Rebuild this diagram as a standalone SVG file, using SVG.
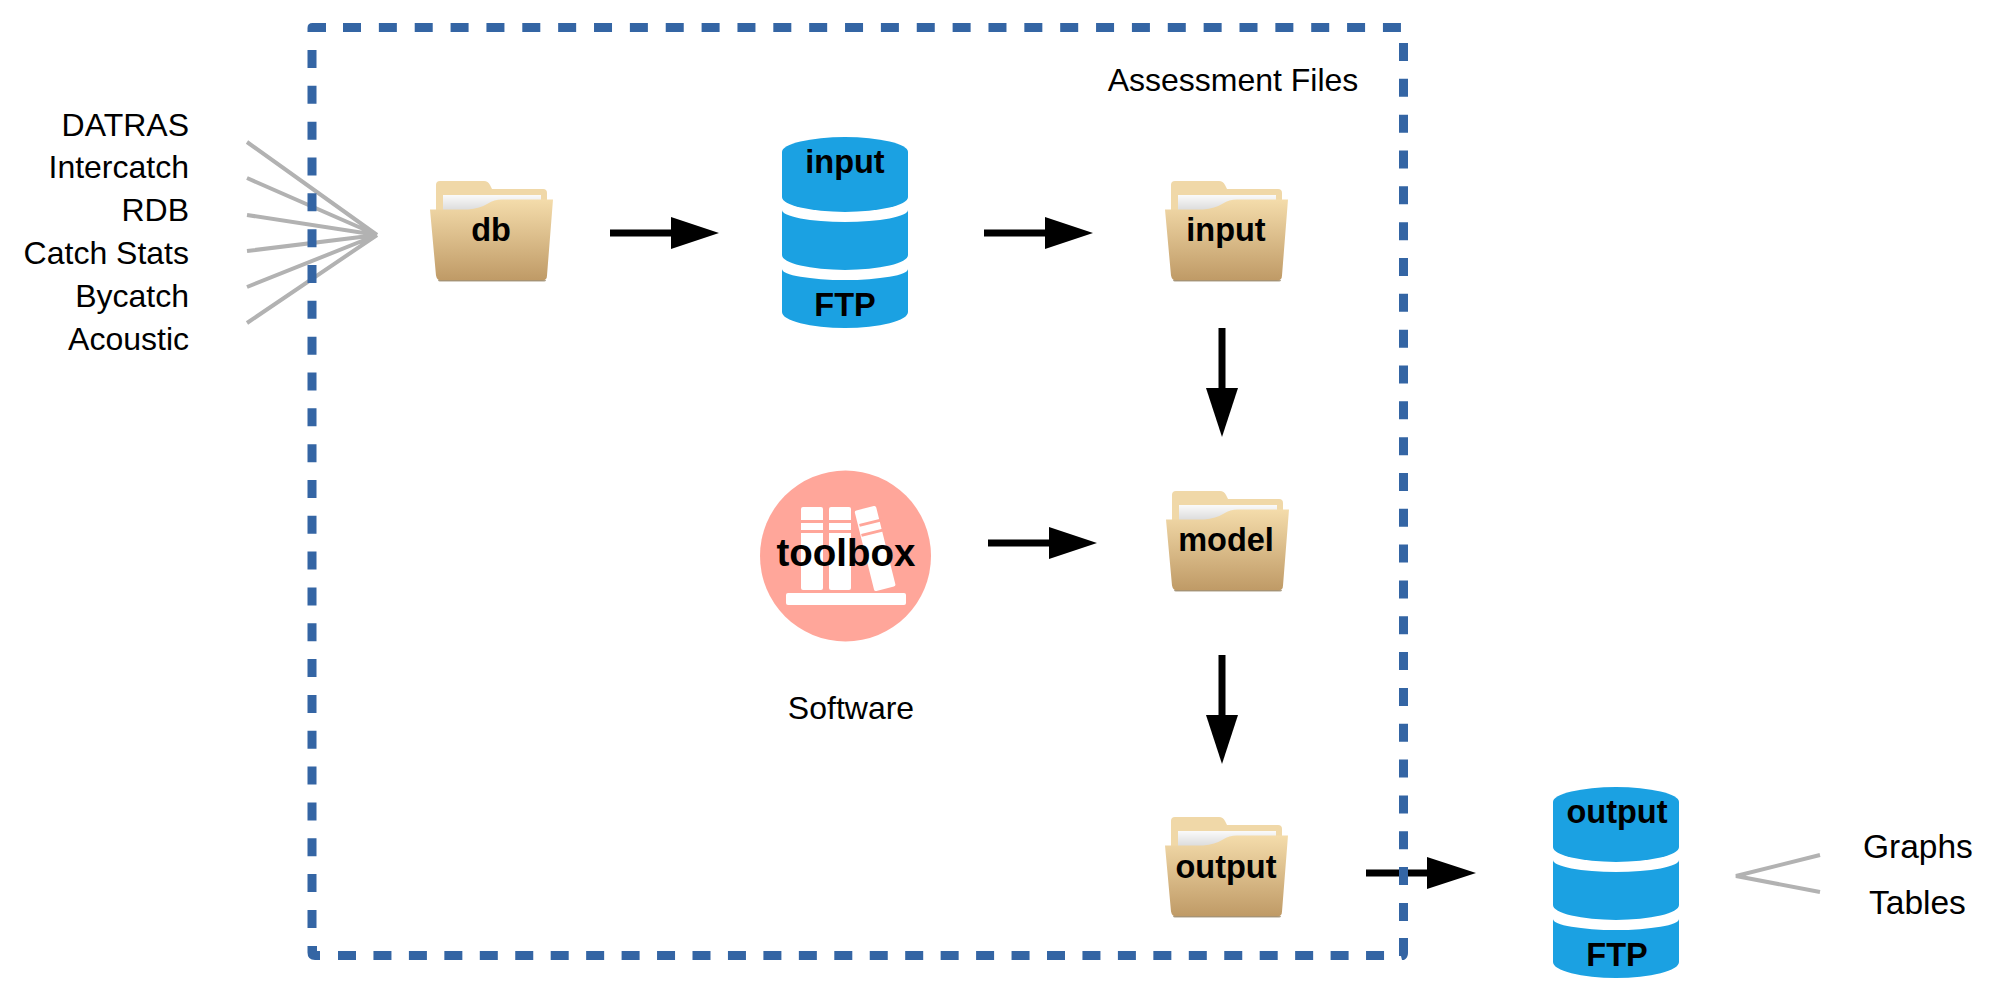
<svg xmlns="http://www.w3.org/2000/svg" width="2000" height="1000" viewBox="0 0 2000 1000">
<style>
text{font-family:"Liberation Sans",Arial,sans-serif;fill:#000}
.l{font-size:32px}
.r{font-size:33.500px}
.e{text-anchor:end}
.m{text-anchor:middle}
.b{font-weight:700;font-size:32.500px;text-anchor:middle}
.g{stroke:#b2b2b2;stroke-width:4;fill:none}
.a{stroke:#000;stroke-width:7;fill:none}
.h{fill:#000}
.c{fill:#1ba1e2}
.d{fill:none;stroke:#3465a4;stroke-width:9}
.dv{stroke-dasharray:18 17.830}
.dt{stroke-dasharray:18 17.860}
.db{stroke-dasharray:18 17.450}
</style>
<defs>
<linearGradient id="fg" x1="0" y1="0" x2="0" y2="1"><stop offset="0" stop-color="#f4dcab"/><stop offset="1" stop-color="#bf9a66"/></linearGradient>
<linearGradient id="pg" x1="0" y1="0" x2="0" y2="1"><stop offset="0" stop-color="#fafafa"/><stop offset="1" stop-color="#dcdcdc"/></linearGradient>
<g id="folder">
<path d="M436 185q0-4 4-4h44q4 0 6 4l2 4h51q4 0 4 4v17H436z" fill="#f0d8a8"/>
<path d="M443 195h98v15H443z" fill="url(#pg)"/>
<path d="M430 209.500h38q12-1 20-6q6-4 14-4h51l-6 76q0 5-5 5H441q-4 0-5-5z" fill="url(#fg)"/>
<path d="M438 280h108q0 1.500-3 1.500H441q-3 0-3-1.500z" fill="#8f7a58" opacity=".7"/>
</g>
<g id="cyl">
<path d="M782 152A63 15 0 0 1 908 152V197A63 15 0 0 1 782 197z" class="c"/>
<path d="M782 210A63 12 0 0 0 908 210V255A63 15 0 0 1 782 255z" class="c"/>
<path d="M782 269A63 11 0 0 0 908 269V312A63 16 0 0 1 782 312z" class="c"/>
</g>
</defs>
<g id="connectors">
<path class="g" d="M247 142 377 235M247 178 377 235M247 215 377 235M247 251 377 235M247 287 377 235M247 323 377 235"/>
<path class="g" d="M1820 855 1736 876 1820 892"/>
<path class="a" d="M610 233H675"/><path class="h" d="M671 217 719 233 671 249z"/>
<path class="a" d="M984 233H1049"/><path class="h" d="M1045 217 1093 233 1045 249z"/>
<path class="a" d="M988 543H1053"/><path class="h" d="M1049 527 1097 543 1049 559z"/>
<path class="a" d="M1222 328V393"/><path class="h" d="M1206 388 1222 437 1238 388z"/>
<path class="a" d="M1222 655V720"/><path class="h" d="M1206 715 1222 764 1238 715z"/>
<path class="a" d="M1366 873H1431"/><path class="h" d="M1427 857 1476 873 1427 889z"/>
</g>
<g id="assessment-box">
<path class="d dt" d="M343 27.500H1401"/>
<path class="d dv" d="M1403.500 43V922"/>
<path class="d dv" d="M312 50V929"/>
<path class="d db" d="M338 955.500H1385"/>
<path d="M307.500 32V28q0-5 5-5H326v9zM307.500 946H317v5h3v9h-5q-7.500 0-7.500-7.500zM1399 938h9v15q0 5-4 7h-2l-1-4h-2z" fill="#3465a4"/>
<text class="l m" x="1233" y="91">Assessment Files</text>
</g>
<g id="sources">
<text class="l e" x="189" y="136">DATRAS</text>
<text class="l e" x="189" y="178">Intercatch</text>
<text class="l e" x="189" y="221">RDB</text>
<text class="l e" x="189" y="264">Catch Stats</text>
<text class="l e" x="189" y="307">Bycatch</text>
<text class="l e" x="189" y="350">Acoustic</text>
</g>
<g id="db"><use href="#folder"/><text class="b" x="491" y="241">db</text></g>
<g id="ftp-input"><use href="#cyl"/><text class="b" x="845" y="173">input</text><text class="b" x="845" y="316">FTP</text></g>
<g id="folder-input"><use href="#folder" x="735"/><text class="b" x="1226" y="241">input</text></g>
<g id="toolbox">
<circle cx="845.500" cy="556" r="85.500" fill="#ffa69a"/>
<g fill="#fff">
<rect x="801" y="507" width="22" height="83" rx="2"/>
<rect x="829" y="507" width="22" height="83" rx="2"/>
<rect x="786" y="593" width="120" height="12" rx="2"/>
<rect x="864" y="507" width="22" height="83" rx="2" transform="rotate(-14 875 548)"/>
</g>
<g fill="#ffa69a">
<rect x="801" y="520" width="22" height="3"/><rect x="801" y="530" width="22" height="3"/>
<rect x="829" y="520" width="22" height="3"/><rect x="829" y="530" width="22" height="3"/>
<rect x="859" y="521" width="24" height="3" transform="rotate(-14 871 522)"/><rect x="861" y="531" width="24" height="3" transform="rotate(-14 873 532)"/>
</g>
<text x="846" y="566" text-anchor="middle" style="font-weight:700;font-size:38.500px">toolbox</text>
<text class="l m" x="851" y="719">Software</text>
</g>
<g id="folder-model"><use href="#folder" x="736" y="310"/><text class="b" x="1226" y="551">model</text></g>
<g id="folder-output"><use href="#folder" x="735" y="636"/><text class="b" x="1226" y="878">output</text></g>
<g id="ftp-output"><use href="#cyl" x="771" y="650"/><text class="b" x="1617" y="823">output</text><text class="b" x="1617" y="966">FTP</text></g>
<g id="results">
<text class="r" x="1863" y="858">Graphs</text>
<text class="r" x="1869" y="914">Tables</text>
</g>
</svg>
